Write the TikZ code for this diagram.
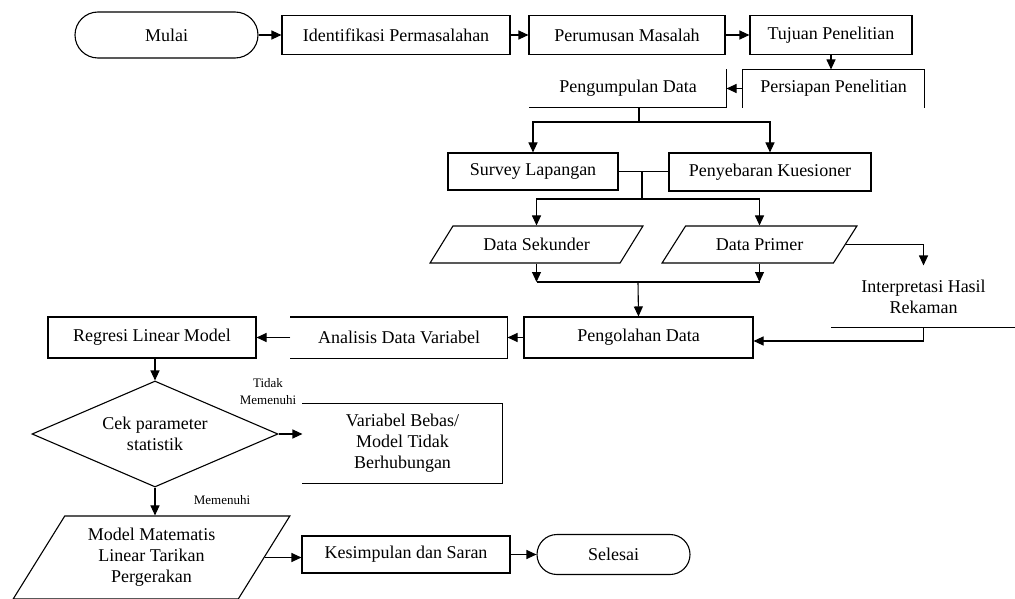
\documentclass[tikz,border=0pt]{standalone}
\usepackage{fontspec}
\setmainfont{Liberation Serif}
\usetikzlibrary{arrows.meta,positioning,shapes.geometric,shapes.misc}
\tikzset{
  base/.style={inner sep=0pt,align=center,font=\fontsize{18}{21}\selectfont,line width=1.1pt},
  box/.style={base,draw,minimum height=39pt},
  openbox/.style={base,minimum height=37pt},
  term/.style={base,draw,rounded rectangle,minimum height=46pt},
  inout/.style={base,draw,trapezium,trapezium stretches=true,trapezium left angle=41,trapezium right angle=139,minimum height=37pt},
  decision/.style={base,draw,diamond,aspect=2.3,minimum width=246pt,minimum height=106pt},
  arrow/.style={-{Triangle[length=10pt,width=9pt]},line width=1.1pt},
  link/.style={line width=1.1pt},
  lbl/.style={inner sep=0pt,align=center,font=\fontsize{13}{17}\selectfont}
}
\begin{document}
\begin{tikzpicture}[x=1pt,y=-1pt]
\useasboundingbox (0,0) rectangle (1015,599);
\node[term,minimum width=183pt] (mulai) at (166.5,35) {Mulai};
\foreach \n/\x/\w/\t in {idp/396/228/Identifikasi Permasalahan,rm/627/196/Perumusan Masalah,tp/831/162/Tujuan Penelitian}{
  \node[box,minimum width=\w pt] (\n) at (\x,35) {\t};
}
\node[openbox,minimum width=181pt] (pp) at (833.5,88.5) {Persiapan Penelitian};
\node[openbox,minimum width=196pt] (pd) at (628,88.5) {Pengumpulan Data};
\node[box,minimum width=170pt,minimum height=37pt] (sl) at (533,171.5) {Survey Lapangan};
\node[box,minimum width=202pt,minimum height=38pt] (pk) at (770,172) {Penyebaran Kuesioner};
\node[inout,minimum width=213pt] (ds) at (536.5,244.5) {Data Sekunder};
\node[inout,minimum width=195pt] (dpr) at (759.5,244.5) {Data Primer};
\node[openbox,minimum width=183pt,minimum height=61pt] (ih) at (923.5,296.5) {Interpretasi Hasil\\Rekaman};
\node[box,minimum width=229pt,minimum height=41pt] (olah) at (638.5,337.5) {Pengolahan Data};
\node[openbox,minimum width=216pt,minimum height=40pt] (ad) at (399,337.5) {Analisis Data Variabel};
\node[box,minimum width=208pt,minimum height=41pt] (rl) at (152,337.5) {Regresi Linear Model};
\node[decision] (cek) at (155,434) {Cek parameter\\statistik};
\node[openbox,minimum width=199pt,minimum height=79pt] (vb) at (402.5,443.5) {Variabel Bebas/\\Model Tidak\\Berhubungan};
\node[inout,trapezium left angle=57,trapezium right angle=123,minimum width=277pt,minimum height=83pt] (mmp) at (151.5,557.5) {Model Matematis\\Linear Tarikan\\Pergerakan};
\node[box,minimum width=208pt,minimum height=37pt] (ks) at (406,554.5) {Kesimpulan dan Saran};
\node[term,minimum width=153pt,minimum height=40pt] (sel) at (613.5,554.5) {Selesai};
\node[lbl] (tdk) at (268,392) {Tidak\\Memenuhi};
\node[lbl] (ya) at (222,500) {Memenuhi};
% sisi kotak yang tampak
\draw[link] (pd.south west) -- (pd.south east) -- (pd.north east);
\draw[link] (pp.south west) -- (pp.north west) -- (pp.north east) -- (pp.south east);
\draw[link] (ih.south west) -- (ih.south east);
\draw[link] (ad.north west) -- (ad.north east) -- (ad.south east) -- (ad.south west);
\draw[link] (vb.north west) -- (vb.north east) -- (vb.south east) -- (vb.south west);
% alur
\draw[arrow] (mulai.east) -- (idp.west);
\draw[arrow] (idp.east) -- (rm.west);
\draw[arrow] (rm.east) -- (tp.west);
\draw[arrow] (tp.south) -- (tp.south |- pp.north);
\draw[arrow] (pp.west) -- (pd.east);
\coordinate (j1) at (639,122);
\draw[link] (pd.south -| j1) -- (j1);
\draw[arrow] (j1) -| (sl.north);
\draw[arrow] (j1) -| (pk.north);
\draw[link] (sl.east) -- (sl.east -| pk.west);
\coordinate (j2) at (642,199);
\draw[link] (sl.east -| j2) -- (j2);
\draw[arrow] (j2) -| (ds.north);
\draw[arrow] (j2) -| (dpr.north);
\coordinate (j3) at (638,282);
\draw[arrow] (ds.south) -- (ds.south |- j3);
\draw[arrow] (dpr.south) -- (dpr.south |- j3);
\draw[link] (ds.south |- j3) -- (dpr.south |- j3);
\draw[arrow] (j3) -- (olah.north);
\draw[arrow] (dpr.east) -| (ih.north);
\draw[arrow] (ih.south) |- ([yshift=-3.5pt]olah.east);
\draw[arrow] (olah.west) -- (olah.west -| ad.east);
\draw[arrow] (ad.west) -- (ad.west -| rl.east);
\draw[arrow] (cek.north |- rl.south) -- (cek.north);
\draw[arrow] (cek.east) -- (cek.east -| vb.west);
\draw[arrow] (cek.south) -- (cek.south |- mmp.north);
\draw[arrow] (mmp.east) -- (mmp.east -| ks.west);
\draw[arrow] (ks.east) -- (ks.east -| sel.west);
\end{tikzpicture}
\end{document}
